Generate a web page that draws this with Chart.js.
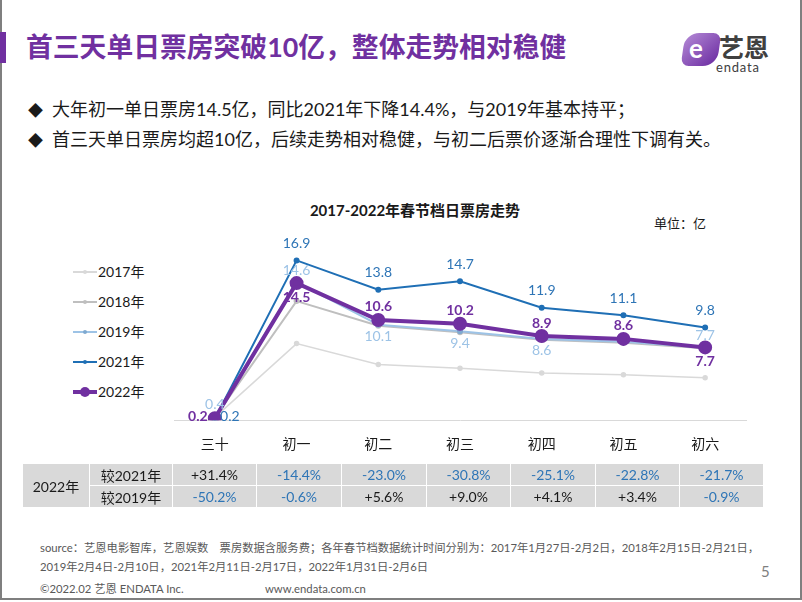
<!DOCTYPE html>
<html>
<head>
<meta charset="utf-8">
<script src="https://cdn.jsdelivr.net/npm/chart.js@4"></script>
<style>
  html, body { margin:0; padding:0; background:#fff; }
  body { width:802px; height:602px; position:relative; overflow:hidden;
         font-family: Lato, "Noto Sans CJK SC", sans-serif; color:#1a1a1a; }
  .frame { position:absolute; left:0; top:0; width:798px; height:598px;
           border-left:2px solid #7f7f7f; border-right:2px solid #7f7f7f; border-bottom:2px solid #7f7f7f; }
  .abs { position:absolute; white-space:nowrap; }
  #bar { left:0; top:32px; width:6px; height:31px; background:#7030a0; }
  #title { left:26px; top:29px; font-size:26.8px; font-weight:bold; color:#7030a0; line-height:36px; }
  .bullet { left:28px; font-size:18px; line-height:26px; color:#1a1a1a; }
  .bullet .d { display:inline-block; width:24px; font-size:15px; }
  #ctitle { left:300px; top:199px; width:230px; text-align:center; font-size:15px; font-weight:bold; line-height:22px; }
  #unit { left:654px; top:213px; font-size:13px; line-height:20px; }
  #chartbox { position:absolute; left:150px; top:225px; width:620px; height:244px; }
  .leg { position:absolute; left:73px; height:20px; width:80px; font-size:14px; line-height:20px; white-space:nowrap; }
  .leg .ln { position:absolute; left:0; top:9px; width:24px; }
  .leg .dt { position:absolute; border-radius:50%; }
  .leg .tx { position:absolute; left:25px; top:0; }
  table { position:absolute; left:22px; top:463px; border-collapse:collapse; font-size:14px; }
  td { background:#d9d9d9; border:1.5px solid #fff; text-align:center; height:21px; padding:0; }
  td.neg { color:#2e75b6; }
  .foot { font-size:11.3px; color:#595959; line-height:18px; }
</style>
</head>
<body>
<div class="frame"></div>
<div class="abs" id="bar"></div>
<div class="abs" id="title">首三天单日票房突破10亿，整体走势相对稳健</div>

<!-- logo -->
<div class="abs" style="left:683px;top:33px;width:36px;height:33px;border-radius:14px 8px 14px 8px;background:linear-gradient(135deg,#b48ad6,#6a2aa0);transform:skewX(-8deg);"></div>
<div class="abs" style="left:689px;top:31px;font-size:26px;font-weight:bold;color:#fff;line-height:34px;font-family:Lato,sans-serif;">e</div>
<div class="abs" style="left:719px;top:31px;font-size:25px;font-weight:bold;color:#404040;line-height:30px;font-family:'Noto Sans CJK SC';">艺恩</div>
<div class="abs" style="left:716px;top:60px;font-size:13px;color:#404040;line-height:14px;letter-spacing:0.8px;">endata</div>

<div class="abs bullet" style="top:96px;"><span class="d">◆</span>大年初一单日票房14.5亿，同比2021年下降14.4%，与2019年基本持平；</div>
<div class="abs bullet" style="top:126px;"><span class="d">◆</span>首三天单日票房均超10亿，后续走势相对稳健，与初二后票价逐渐合理性下调有关。</div>

<div class="abs" id="ctitle">2017-2022年春节档日票房走势</div>
<div class="abs" id="unit">单位：亿</div>

<div id="legend"></div>
<div id="chartbox"><canvas id="c"></canvas></div>

<table id="tbl"></table>

<div class="abs foot" style="left:40px;top:539px;">source：艺恩电影智库，艺恩娱数　票房数据含服务费；各年春节档数据统计时间分别为：2017年1月27日-2月2日，2018年2月15日-2月21日，</div>
<div class="abs foot" style="left:40px;top:558px;">2019年2月4日-2月10日，2021年2月11日-2月17日，2022年1月31日-2月6日</div>
<div class="abs foot" style="left:40px;top:580px;">©2022.02 艺恩 ENDATA Inc.</div>
<div class="abs foot" style="left:265px;top:580px;">www.endata.com.cn</div>
<div class="abs" style="left:761px;top:562px;font-size:15px;color:#7f7f7f;">5</div>

<script>
// ---- data ----
const categories = ['三十', '初一', '初二', '初三', '初四', '初五', '初六'];
const seriesNames = ['2017年', '2018年', '2019年', '2021年', '2022年'];
const box2017 = [0.3, 8.1, 5.9, 5.5, 5.0, 4.8, 4.5];
const box2018 = [0.3, 12.6, 10.0, 9.3, 8.5, 8.2, 7.6];
const box2019 = [0.4, 14.6, 10.1, 9.4, 8.6, 8.3, 7.7];
const box2021 = [0.15, 16.9, 13.8, 14.7, 11.9, 11.1, 9.8];
const box2022 = [0.2, 14.5, 10.6, 10.2, 8.9, 8.6, 7.7];
const tableRowLabels = ['较2021年', '较2019年'];
const vs2021 = ['+31.4%', '-14.4%', '-23.0%', '-30.8%', '-25.1%', '-22.8%', '-21.7%'];
const vs2019 = ['-50.2%', '-0.6%', '+5.6%', '+9.0%', '+4.1%', '+3.4%', '-0.9%'];

// ---- styles ----
const styles = [
  { color:'#d9d9d9', width:1.5, r:2, labels:null },
  { color:'#bfbfbf', width:2, r:2, labels:null },
  { color:'#9dc3e6', pt:'#7fa9d0', width:2, r:2, labelColor:'#9dc3e6', font:'14px Lato, "Noto Sans CJK SC"',
    labels:['above','above','below','below','below',null,'above'], up:-12, down:12 },
  { color:'#1f6fb5', width:2, r:2, labelColor:'#2e75b6', font:'14px Lato, "Noto Sans CJK SC"',
    labels:['right','above','above','above','above','above','above'], up:-17, down:14 },
  { color:'#7030a0', width:4, r:5, labelColor:'#7030a0', font:'bold 14px Lato, "Noto Sans CJK SC"',
    labels:['left','below','above','above','above','above','below'], up:-13, down:14 }
];
const allData = [box2017, box2018, box2019, box2021, box2022];

const datasets = allData.map((d, i) => ({
  label: seriesNames[i],
  data: d,
  borderColor: styles[i].color,
  backgroundColor: styles[i].pt || styles[i].color,
  pointBackgroundColor: styles[i].pt || styles[i].color,
  pointBorderColor: styles[i].pt || styles[i].color,
  borderWidth: styles[i].width,
  pointRadius: styles[i].r,
  pointHoverRadius: styles[i].r,
  tension: 0,
  order: allData.length - i
}));

const labelPlugin = {
  id: 'valueLabels',
  afterDatasetsDraw(chart) {
    const ctx = chart.ctx;
    ctx.save();
    ctx.textAlign = 'center';
    ctx.textBaseline = 'middle';
    chart.data.datasets.forEach((ds, i) => {
      const st = styles[i];
      if (!st.labels) return;
      const meta = chart.getDatasetMeta(i);
      ctx.font = st.font;
      ctx.fillStyle = st.labelColor;
      meta.data.forEach((pt, j) => {
        const pos = st.labels[j];
        if (!pos) return;
        const txt = (Math.round(ds.data[j] * 10) / 10).toFixed(1);
        let x = pt.x, y = pt.y;
        if (pos === 'above') y += st.up;
        else if (pos === 'below') y += st.down;
        else if (pos === 'left') { x -= 17; y -= 2; }
        else if (pos === 'right') { x += 15; y -= 2; }
        ctx.fillText(txt, x, y);
      });
    });
    ctx.restore();
  }
};

new Chart(document.getElementById('c'), {
  type: 'line',
  data: { labels: categories, datasets },
  options: {
    responsive: true,
    maintainAspectRatio: false,
    animation: false,
    layout: { padding: { left: 24, right: 24, top: 25, bottom: 0 } },
    plugins: { legend: { display: false }, tooltip: { enabled: false }, title: { display: false } },
    scales: {
      x: {
        offset: true,
        grid: { display: false, drawTicks: false },
        border: { display: true, color: '#d9d9d9', width: 1 },
        ticks: { color: '#1a1a1a', font: { size: 14, family: 'Lato, "Noto Sans CJK SC"' }, padding: 16 }
      },
      y: { display: false, min: 0, max: 18 }
    }
  },
  plugins: [labelPlugin]
});

// legend
const legTops = [262, 292, 322, 352, 382];
const legend = document.getElementById('legend');
seriesNames.forEach((n, i) => {
  const st = styles[i];
  const el = document.createElement('div');
  el.className = 'leg';
  el.style.top = legTops[i] + 'px';
  const r = st.r;
  el.innerHTML = `<div class="ln" style="height:${st.width}px;top:${10 - st.width/2}px;background:${st.color}"></div>` +
    `<div class="dt" style="width:${r*2}px;height:${r*2}px;left:${12 - r}px;top:${10 - r}px;background:${st.pt || st.color}"></div>` +
    `<div class="tx">${n}</div>`;
  legend.appendChild(el);
});

// table
const tbl = document.getElementById('tbl');
const colW = [66, 82, 83, 84, 84, 83, 84, 83, 83];
[vs2021, vs2019].forEach((row, r) => {
  const tr = document.createElement('tr');
  if (r === 0) {
    const td = document.createElement('td');
    td.rowSpan = 2; td.textContent = '2022年'; td.style.width = colW[0] + 'px';
    tr.appendChild(td);
  }
  const lab = document.createElement('td');
  lab.textContent = tableRowLabels[r]; lab.style.width = colW[1] + 'px';
  tr.appendChild(lab);
  row.forEach((v, k) => {
    const td = document.createElement('td');
    td.textContent = v;
    td.style.width = colW[k + 2] + 'px';
    if (v.startsWith('-')) td.className = 'neg';
    tr.appendChild(td);
  });
  tbl.appendChild(tr);
});
</script>
</body>
</html>
